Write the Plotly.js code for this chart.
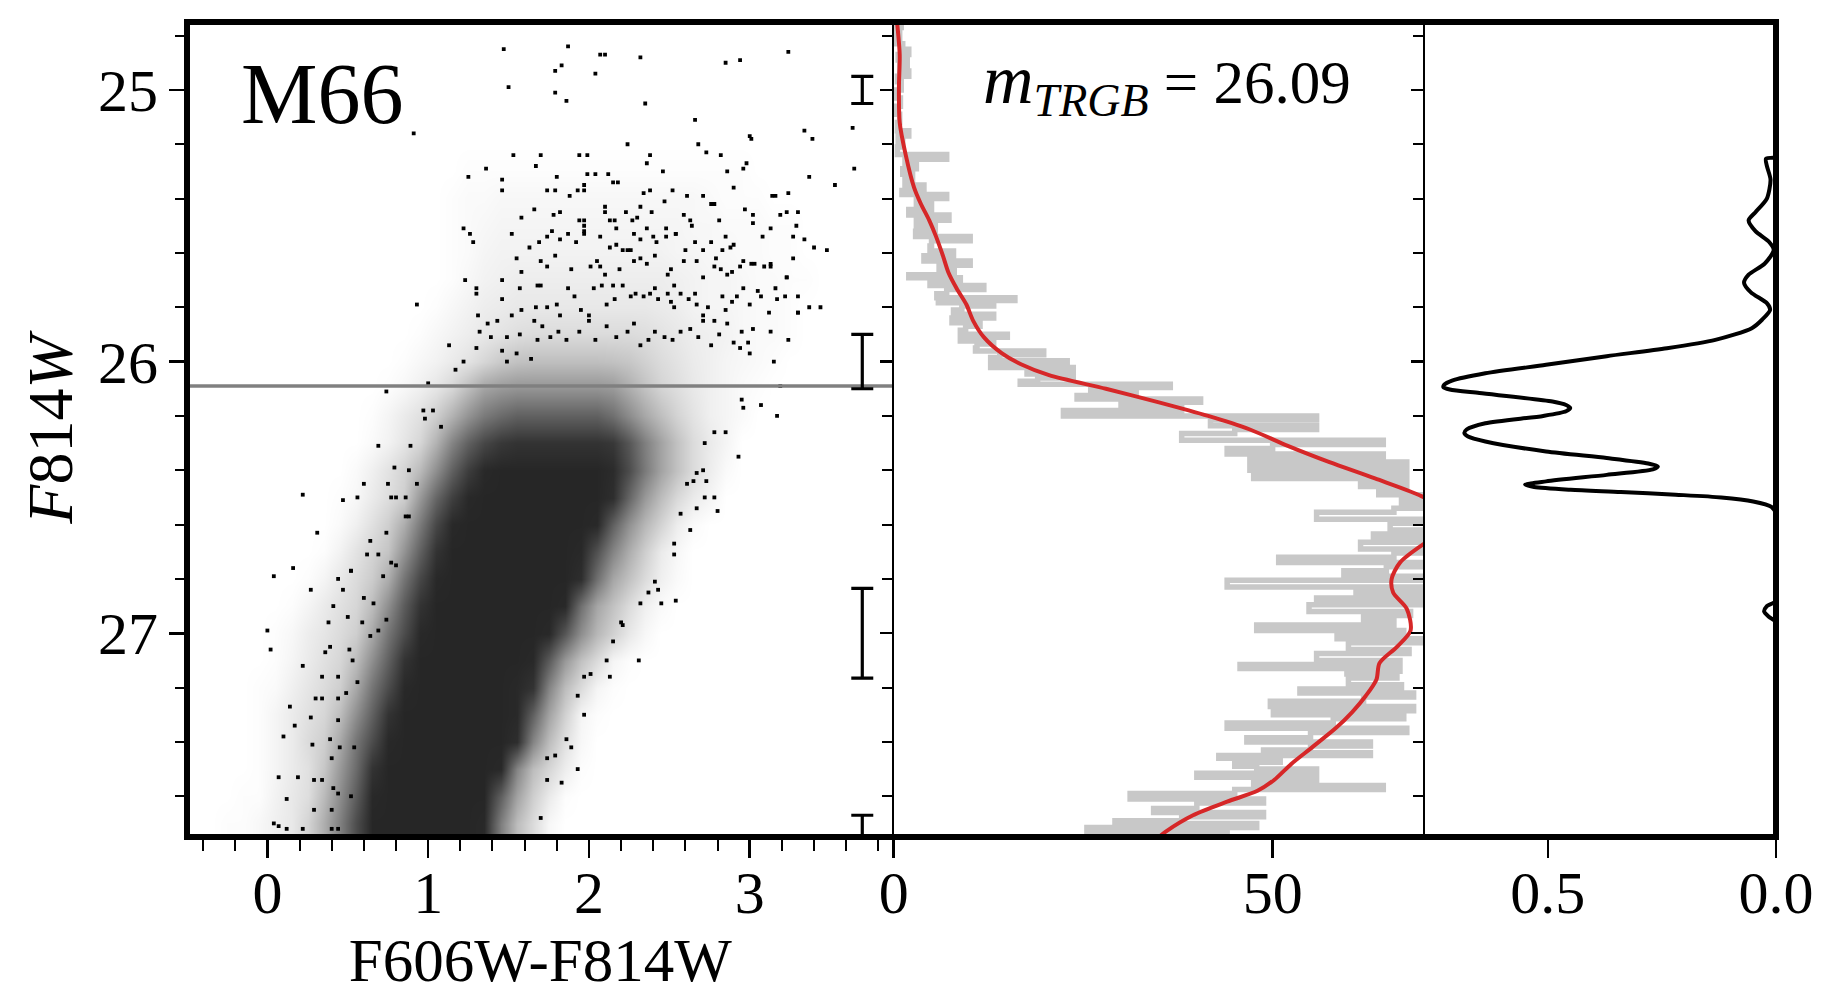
<!DOCTYPE html>
<html><head><meta charset="utf-8">
<script src="https://cdn.plot.ly/plotly-3.0.1.min.js"></script>
<style>html,body{margin:0;padding:0;background:#fff;}#chart{width:1829px;height:994px;}</style>
</head><body><div id="chart"></div>
<script>
// ---------- DATA ----------
// CMD: estimated ink density (percent coverage) of the crowded star cloud, 0.1 colour x 0.1 mag grid
const colorCenters = [-0.45,-0.35,-0.25,-0.15,-0.05,0.05,0.15,0.25,0.35,0.45,0.55,0.65,0.75,0.85,0.95,1.05,1.15,1.25,1.35,1.45,1.55,1.65,1.75,1.85,1.95,2.05,2.15,2.25,2.35,2.45,2.55,2.65,2.75,2.85,2.95,3.05,3.15,3.25,3.35,3.45,3.55,3.65,3.75,3.85];
const magCenters = [25.2,25.3,25.4,25.5,25.6,25.7,25.8,25.9,26.0,26.1,26.2,26.3,26.4,26.5,26.6,26.7,26.8,26.9,27.0,27.1,27.2,27.3,27.4,27.5,27.6,27.7];
const density = [
 [0,0,0,0,0,0,0,0,0,0, 0,0,0,0,0,0,0,0,0,0, 0,0,0,0,0,0,0,0,0,0, 0,0,0,0,0,0,0,0,0,0, 0,0,0,0],
 [0,0,0,0,0,0,0,0,0,0, 0,0,0,0,0,0,0,1,1,1, 1,1,1,1,1,1,1,1,1,1, 1,1,1,1,1,0,0,0,0,0, 0,0,0,0],
 [0,0,0,0,0,0,0,0,0,0, 0,0,0,0,0,0,1,2,2,3, 3,3,3,3,3,3,3,3,3,3, 3,3,2,1,1,1,0,0,0,0, 0,0,0,0],
 [0,0,0,0,0,0,0,0,0,0, 0,0,0,0,0,0,1,2,3,4, 4,4,4,4,4,4,4,4,4,4, 4,3,3,2,2,2,1,1,0,0, 0,0,0,0],
 [0,0,0,0,0,0,0,0,0,0, 0,0,0,0,0,0,1,2,4,5, 5,5,5,5,5,5,5,5,5,5, 4,4,3,3,2,2,1,1,0,0, 0,0,0,0],
 [0,0,0,0,0,0,0,0,0,0, 0,0,0,0,0,0,1,3,5,6, 7,7,7,7,7,7,7,7,7,7, 6,5,4,4,3,2,2,1,1,0, 0,0,0,0],
 [0,0,0,0,0,0,0,0,0,0, 0,0,0,0,0,1,3,5,7,8, 9,9,9,9,9,9,9,9,9,8, 7,5,4,4,3,2,2,1,0,0, 0,0,0,0],
 [0,0,0,0,0,0,0,0,0,0, 0,0,0,0,1,3,5,7,9,11, 13,14,14,14,14,14,14,14,13,11, 9,7,6,5,3,2,2,1,0,0, 0,0,0,0],
 [0,0,0,0,0,0,0,0,0,0, 0,0,0,1,3,5,8,11,16,21, 24,25,25,25,25,25,24,22,18,14, 11,8,6,4,3,2,1,0,0,0, 0,0,0,0],
 [0,0,0,0,0,0,0,0,0,0, 0,0,1,3,6,10,16,26,36,40, 42,42,42,42,42,42,40,32,24,17, 13,9,6,4,2,1,0,0,0,0, 0,0,0,0],
 [0,0,0,0,0,0,0,0,0,0, 0,1,4,8,12,19,30,42,52,58, 62,62,62,62,62,62,56,45,34,25, 17,11,6,4,2,0,0,0,0,0, 0,0,0,0],
 [0,0,0,0,0,0,0,0,0,0, 0,2,5,10,16,30,48,62,72,78, 80,80,80,80,80,80,78,66,50,36, 24,14,8,4,0,0,0,0,0,0, 0,0,0,0],
 [0,0,0,0,0,0,0,0,0,0, 2,6,11,17,27,44,62,76,84,85, 85,85,85,85,85,85,83,70,52,36, 24,14,7,2,0,0,0,0,0,0, 0,0,0,0],
 [0,0,0,0,0,0,0,0,0,1, 3,8,13,19,40,60,75,84,85,85, 85,85,85,85,85,85,82,60,40,26, 15,8,4,0,0,0,0,0,0,0, 0,0,0,0],
 [0,0,0,0,0,0,0,0,0,2, 6,12,19,32,52,72,84,85,85,85, 85,85,85,85,85,84,62,43,28,17, 7,2,0,0,0,0,0,0,0,0, 0,0,0,0],
 [0,0,0,0,0,0,0,0,1,5, 11,17,23,42,62,80,85,85,85,85, 85,85,85,85,84,68,48,32,19,8, 3,0,0,0,0,0,0,0,0,0, 0,0,0,0],
 [0,0,0,0,0,0,0,1,4,9, 14,20,32,54,72,84,85,85,85,85, 85,85,85,85,82,56,35,24,14,6, 2,0,0,0,0,0,0,0,0,0, 0,0,0,0],
 [0,0,0,0,0,0,1,4,8,12, 16,26,44,64,80,85,85,85,85,85, 85,85,85,84,56,35,24,14,6,2, 0,0,0,0,0,0,0,0,0,0, 0,0,0,0],
 [0,0,0,0,0,1,3,7,10,14, 19,34,54,70,84,85,85,85,85,85, 85,85,84,66,44,28,18,9,3,0, 0,0,0,0,0,0,0,0,0,0, 0,0,0,0],
 [0,0,0,0,0,1,4,8,12,16, 26,44,62,80,85,85,85,85,85,85, 85,84,64,40,24,14,4,1,0,0, 0,0,0,0,0,0,0,0,0,0, 0,0,0,0],
 [0,0,0,0,1,2,6,10,14,19, 34,54,70,84,85,85,85,85,85,85, 84,80,48,26,14,4,1,0,0,0, 0,0,0,0,0,0,0,0,0,0, 0,0,0,0],
 [0,0,0,0,1,4,8,12,16,26, 44,62,80,85,85,85,85,85,85,85, 84,62,36,18,4,1,0,0,0,0, 0,0,0,0,0,0,0,0,0,0, 0,0,0,0],
 [0,0,0,0,1,4,8,14,19,34, 54,70,84,85,85,85,85,85,85,85, 82,48,26,12,3,0,0,0,0,0, 0,0,0,0,0,0,0,0,0,0, 0,0,0,0],
 [0,0,0,0,1,4,8,12,22,40, 58,80,85,85,85,85,85,85,85,84, 48,26,16,7,1,0,0,0,0,0, 0,0,0,0,0,0,0,0,0,0, 0,0,0,0],
 [0,0,0,1,1,5,9,13,27,45, 64,84,85,85,85,85,85,85,85,62, 36,19,8,1,0,0,0,0,0,0, 0,0,0,0,0,0,0,0,0,0, 0,0,0,0],
 [0,0,1,1,3,6,9,17,32,50, 70,85,85,85,85,85,85,85,84,50, 26,14,3,0,0,0,0,0,0,0, 0,0,0,0,0,0,0,0,0,0, 0,0,0,0]
];
// CMD: individually visible stars [colour, F814W]
const stars = [
 [1.47,24.85],[1.50,24.99],[0.91,25.16],[1.53,25.24],[1.67,25.28],[1.36,25.29],[1.25,25.32],[1.46,25.33],[1.46,25.37],[1.66,25.44],[1.58,25.47],[1.22,25.51],[1.26,25.53],[1.28,25.56],[1.52,25.53],[1.63,25.58],[1.55,25.62],[1.23,25.70],[1.30,25.73],[1.30,25.75],[1.46,25.70],[1.46,25.77],[1.57,25.73],[0.93,25.79],[1.31,25.83],[1.13,25.94],[1.22,26.00],[1.17,26.03],[0.74,26.11],[1.00,26.08],[0.97,26.18],[1.03,26.18],[0.98,26.21],[1.08,26.24],
 [1.69,25.56],[1.58,25.67],[1.68,25.72],[1.67,25.80],[1.58,25.81],[1.52,25.83],[1.66,25.85],[1.37,25.86],[1.43,25.85],[1.32,25.89],[1.49,25.91],[1.57,25.90],[1.68,25.92],[1.39,25.91],[1.46,25.96],[1.55,25.97],[1.64,25.99],[1.30,25.95],[1.49,26.00],
 [1.87,24.84],[1.79,24.93],[1.83,24.91],[2.04,24.94],[2.07,24.87],[2.10,24.87],[2.32,24.88],[1.79,25.01],[1.86,25.04],[2.35,25.05],[2.66,25.11],[2.85,24.90],[2.94,24.89],[3.24,24.86],[2.24,25.20],[2.36,25.27],[2.38,25.24],[2.68,25.20],[2.73,25.23],[2.82,25.24],[3.00,25.17],[3.01,25.18],[2.96,25.29],[2.98,25.27],[2.86,25.30],[2.90,25.36],[3.34,25.15],[3.39,25.18],[3.37,25.32],[3.53,25.35],[3.64,25.14],[3.65,25.29],[1.94,25.24],[1.99,25.24],[1.70,25.24],[2.46,25.30],[3.48,25.59],[3.44,25.80],[3.37,25.80],[3.24,25.92],[3.30,25.82],[3.15,26.00],[3.19,26.09],[3.17,26.20],[3.07,26.16],[2.95,26.14],[2.96,26.17],[3.23,25.69],[3.30,25.45],[3.24,25.38],[3.19,25.46],[3.14,25.39],
 [1.80,25.32],[1.99,25.31],[2.04,25.31],[2.12,25.31],[2.15,25.34],[2.18,25.34],[1.97,25.35],[1.93,25.37],[1.74,25.37],[1.79,25.37],[1.88,25.39],[1.97,25.37],[2.34,25.38],[2.38,25.37],[2.47,25.41],[2.52,25.37],[2.61,25.39],[2.71,25.39],[2.76,25.42],[2.78,25.42],
 [1.82,25.45],[1.78,25.46],[1.94,25.48],[1.97,25.48],[1.97,25.50],[2.10,25.43],[2.10,25.45],[2.13,25.48],[2.16,25.48],[2.17,25.51],[2.23,25.45],[2.27,25.48],[2.30,25.47],[2.32,25.43],[2.39,25.45],[2.48,25.51],[2.54,25.53],[2.59,25.46],[2.63,25.48],[2.64,25.50],[2.81,25.48],[2.97,25.44],[3.02,25.46],[3.02,25.49],[3.16,25.39],[3.23,25.45],[3.13,25.51],[3.29,25.50],
 [1.74,25.54],[1.77,25.52],[1.82,25.55],[1.87,25.53],[1.92,25.56],[1.97,25.52],[1.97,25.53],[2.07,25.54],[2.13,25.58],[2.17,25.57],[2.21,25.59],[2.26,25.59],[2.28,25.53],[2.32,25.55],[2.36,25.51],[2.40,25.54],[2.42,25.56],[2.48,25.54],[2.54,25.53],[2.60,25.59],[2.66,25.56],[2.71,25.59],[2.76,25.56],[2.79,25.62],[2.83,25.59],[2.85,25.54],[2.88,25.58],[2.90,25.57],[2.96,25.63],[3.01,25.64],[3.08,25.54],[3.13,25.65],[3.27,25.62],[3.27,25.54],[3.34,25.55],[3.40,25.58],
 [1.70,25.63],[1.74,25.65],[1.79,25.61],[1.89,25.66],[2.01,25.65],[2.05,25.63],[2.07,25.65],[2.10,25.68],[2.15,25.72],[2.19,25.66],[2.24,25.59],[2.28,25.63],[2.32,25.62],[2.36,25.64],[2.41,25.61],[2.49,25.68],[2.51,25.66],[2.53,25.72],[2.59,25.63],[2.67,25.63],[2.71,25.69],[2.78,25.65],[2.82,25.66],[2.86,25.68],[2.89,25.67],[2.94,25.65],[3.03,25.64],[3.09,25.65],[3.13,25.64],[3.16,25.73],[3.23,25.69],
 [1.70,25.72],[1.74,25.80],[1.80,25.79],[1.82,25.83],[1.87,25.73],[1.91,25.76],[1.95,25.81],[2.00,25.83],[2.03,25.73],[2.08,25.72],[2.11,25.79],[2.16,25.77],[2.21,25.72],[2.26,25.76],[2.29,25.75],[2.34,25.76],[2.38,25.75],[2.41,25.73],[2.43,25.77],[2.49,25.75],[2.51,25.78],[2.53,25.80],[2.57,25.75],[2.62,25.77],[2.66,25.75],[2.67,25.79],[2.71,25.83],[2.74,25.80],[2.78,25.85],[2.83,25.76],[2.85,25.81],[2.89,25.78],[2.92,25.76],[2.96,25.73],[3.00,25.79],[3.05,25.74],[3.07,25.76],[3.12,25.82],[3.17,25.77],[3.22,25.76],[3.30,25.76],[3.30,25.82],
 [1.71,25.87],[1.76,25.91],[1.81,25.89],[1.86,25.92],[1.94,25.89],[2.00,25.85],[2.04,25.92],[2.11,25.87],[2.17,25.91],[2.24,25.89],[2.28,25.86],[2.32,25.94],[2.37,25.92],[2.41,25.89],[2.47,25.91],[2.52,25.92],[2.57,25.89],[2.63,25.88],[2.68,25.91],[2.71,25.85],[2.76,25.94],[2.81,25.90],[2.86,25.86],[2.90,25.93],[2.95,25.89],[2.99,25.93],[3.02,25.88],[3.13,25.89],[2.94,25.95],[3.00,25.97],
 [0.22,26.49],[0.04,26.79],[0.16,26.76],[0.27,26.84],[0.31,26.63],[0.00,26.99],[0.02,27.06],[0.22,27.12],[0.34,27.16],[0.14,27.27],[0.17,27.34],[0.10,27.38],[0.27,27.31],[0.28,27.41],[0.07,27.53],[0.19,27.53],[0.12,27.61],[0.29,27.65],[0.04,27.70],[0.07,27.71],[0.12,27.72],[0.22,27.72],[0.47,26.51],[0.56,26.50],[0.52,26.77],[0.44,26.80],[0.41,26.90],[0.38,26.96],[0.36,27.07],[0.47,26.84],
 [0.69,26.31],[0.89,26.31],[0.79,26.39],[0.88,26.40],[0.75,26.45],[0.93,26.45],[0.60,26.45],[0.77,26.50],[0.80,26.50],[0.86,26.50],[0.86,26.57],[0.88,26.57],[0.64,26.66],[0.74,26.63],[0.69,26.71],[0.62,26.71],[0.77,26.74],[0.80,26.75],[0.72,26.79],[0.52,26.77],[0.60,26.87],[0.66,26.89],[0.50,26.94],[0.59,26.96],[0.74,26.95],[0.69,26.99],[0.64,27.01],[0.51,27.06],[0.39,27.05],[0.53,27.10],[0.44,27.16],[0.56,27.18],[0.49,27.22],[0.30,27.24],[0.34,27.24],[0.44,27.24],[0.44,27.32],[0.39,27.39],[0.54,27.42],[0.45,27.42],[0.40,27.46],[0.34,27.54],[0.29,27.54],[0.41,27.57],[0.44,27.59],[0.40,27.65],[0.52,27.60],[0.40,27.72],[0.44,27.72],
 [2.93,26.35],[2.80,26.55],[2.78,26.50],[2.54,26.88],[2.45,26.89],[2.31,27.10],[2.13,27.16],[1.97,27.30],[1.93,27.50],[1.83,27.55],[1.74,27.54],[2.53,26.71],[2.63,26.62],
 [2.78,26.26],[2.85,26.26],[2.72,26.30],[2.71,26.40],[2.73,26.44],[2.67,26.41],[2.65,26.44],[2.61,26.45],[2.67,26.54],[2.72,26.50],[2.57,26.56],[2.53,26.67],[2.43,26.84],[2.41,26.81],[2.37,26.85],[2.32,26.89],[2.20,26.96],[2.21,26.97],[2.15,27.03],[2.11,27.10],[2.01,27.15],[1.97,27.16],[1.93,27.23],[1.89,27.42],[1.86,27.39],[1.79,27.45],[1.74,27.46],[1.70,27.68]
];
const trgbMag = 26.09;
const cmdColorRange = [-0.5, 3.895];
const errColor = [3.70,3.70,3.70,3.70];
const errMag = [25.0,26.0,27.0,28.0];
const errHalf = [0.05,0.10,0.165,0.33];
// middle panel: noisy luminosity function (grey steps) and smoothed LF (red)
const histMag = [24.75,24.77,24.79,24.81,24.83,24.85,24.87,24.89,24.91,24.93,24.95,24.97,25.00,25.03,25.06,25.09,25.12,25.15,25.17,25.19,25.21,25.238,25.255,25.27,25.29,25.31,25.33,25.35,25.37,25.385,25.40,25.42,25.44,25.46,25.48,25.50,25.52,25.54,25.555,25.575,25.593,25.61,25.63,25.645,25.665,25.68,25.691,25.705,25.72,25.735,25.75,25.765,25.775,25.783,25.795,25.81,25.826,25.84,25.857,25.87,25.885,25.899,25.91,25.924,25.935,25.95,25.961,25.975,25.985,25.997,26.008,26.022,26.034,26.046,26.06,26.072,26.083,26.095,26.11,26.125,26.138,26.15,26.165,26.18,26.20,26.215,26.236,26.25,26.265,26.29,26.305,26.32,26.34,26.355,26.37,26.385,26.40,26.415,26.43,26.445,26.46,26.475,26.49,26.505,26.52,26.54,26.555,26.58,26.595,26.62,26.635,26.65,26.665,26.69,26.705,26.72,26.74,26.755,26.77,26.79,26.805,26.83,26.845,26.855,26.87,26.88,26.895,26.92,26.935,26.95,26.97,26.99,27.005,27.02,27.035,27.06,27.075,27.10,27.115,27.13,27.14,27.15,27.165,27.19,27.205,27.22,27.235,27.25,27.27,27.285,27.30,27.315,27.33,27.35,27.365,27.385,27.40,27.415,27.43,27.44,27.45,27.46,27.475,27.49,27.50,27.515,27.53,27.545,27.56,27.575,27.59,27.61,27.625,27.645,27.66,27.675,27.69,27.70,27.715,27.73,27.74,27.75];
const histCount = [0.3,1.0,0.4,0.8,0.3,1.2,2.0,0.6,1.8,0.8,2.0,0.5,1.0,0.4,0.9,0.3,0.8,0.5,2.0,0.6,1.2,0.5,7.0,1.5,3.0,1.2,2.5,1.5,4.0,1.1,7.0,3.0,5.0,2.0,7.3,3.0,5.5,2.9,10.1,5.0,4.8,7.9,4.0,10.1,6.0,8.0,2.0,8.8,4.8,11.9,7.0,5.7,16.0,5.9,13.2,9.0,7.9,13.2,7.7,11.4,9.5,8.8,15.0,8.8,13.2,11.0,10.8,19.8,14.0,12.8,22.9,12.8,23.7,17.6,23.7,19.0,16.7,36.5,26.0,32.0,24.2,40.5,30.0,38.0,22.4,55.8,41.8,55.8,45.0,38.0,64.6,50.0,44.0,64.6,47.0,67.7,47.0,67.7,47.5,67.7,61.6,67.7,64.0,72.0,67.0,73.0,66.0,55.8,72.0,65.5,72.0,63.3,71.0,61.6,71.0,66.0,50.8,71.0,65.0,59.4,71.0,44.0,71.0,61.0,71.0,55.8,71.0,54.8,68.2,62.0,66.0,47.9,67.3,58.5,70.0,60.0,68.0,55.8,66.8,45.7,66.8,59.8,66.4,60.0,67.0,53.6,68.6,62.0,49.7,68.6,50.1,67.3,58.0,44.0,67.7,55.0,46.6,62.9,55.0,48.8,62.9,42.9,51.0,45.0,47.9,55.8,40.0,55.8,47.5,64.6,45.0,31.2,48.8,40.0,34.3,48.8,38.0,29.2,47.9,25.5,44.0,30.0];
const lfMag = [24.75,24.87,24.99,25.12,25.24,25.36,25.42,25.48,25.54,25.61,25.67,25.73,25.79,25.85,25.91,25.97,26.01,26.05,26.10,26.15,26.20,26.25,26.31,26.37,26.43,26.50,26.55,26.59,26.63,26.67,26.74,26.80,26.85,26.91,26.99,27.05,27.11,27.17,27.23,27.29,27.35,27.42,27.48,27.54,27.58,27.62,27.67,27.73,27.75];
const lfCount = [0.45,0.8,0.7,0.8,1.6,2.7,3.6,4.7,5.6,6.5,7.2,8.3,9.6,10.5,11.9,14.3,16.8,20.5,28.0,35.0,41.5,47.0,52.0,57.5,63.5,70.0,72.5,73.5,72.5,70.0,66.8,65.7,65.9,67.7,68.2,66.4,64.1,63.7,62.3,60.5,58.3,55.2,52.5,50.2,48.0,44.0,39.5,35.9,35.0];
// right panel: edge-detection response
const edgeMag = [25.25,25.253,25.28,25.33,25.40,25.45,25.48,25.52,25.56,25.59,25.64,25.68,25.71,25.745,25.785,25.81,25.845,25.877,25.92,25.951,25.98,26.012,26.043,26.07,26.085,26.094,26.103,26.116,26.147,26.16,26.171,26.183,26.20,26.227,26.25,26.263,26.276,26.294,26.331,26.355,26.375,26.386,26.397,26.417,26.441,26.453,26.462,26.472,26.48,26.49,26.50,26.515,26.535,26.56,26.88,26.90,26.92,26.94,26.96,27.00];
const edgeResp = [0.0,0.022,0.02,0.012,0.02,0.045,0.06,0.045,0.015,0.005,0.025,0.06,0.07,0.055,0.02,0.013,0.03,0.053,0.133,0.239,0.371,0.504,0.637,0.71,0.727,0.729,0.715,0.65,0.49,0.46,0.451,0.46,0.51,0.637,0.678,0.683,0.675,0.637,0.504,0.371,0.28,0.259,0.27,0.371,0.504,0.55,0.53,0.45,0.34,0.22,0.12,0.05,0.01,0.0,0.0,0.02,0.026,0.015,0.0,0.0];

// ---------- TRACES ----------
const FONT = 'Liberation Serif, Times New Roman, serif';
const traces = [
 {type:'heatmap', x:colorCenters, y:magCenters, z:density, zmin:0, zmax:100, zsmooth:'best',
  colorscale:[[0,'#ffffff'],[1,'#000000']], showscale:false, hoverinfo:'skip', xaxis:'x', yaxis:'y'},
 {type:'scatter', mode:'markers', x:stars.map(p=>p[0]), y:stars.map(p=>p[1]), xaxis:'x', yaxis:'y',
  marker:{symbol:'square', size:3.8, color:'#000', line:{width:0}}, hoverinfo:'skip'},
 {type:'scatter', mode:'lines', x:cmdColorRange, y:[trgbMag, trgbMag], xaxis:'x', yaxis:'y',
  line:{color:'#808080', width:3.5}, hoverinfo:'skip'},
 {type:'scatter', mode:'markers', x:errColor, y:errMag, xaxis:'x', yaxis:'y',
  marker:{size:1, color:'rgba(0,0,0,0)'},
  error_y:{type:'data', array:errHalf, visible:true, color:'#000', thickness:3.2, width:11}, hoverinfo:'skip'},
 {type:'scatter', mode:'lines', x:histCount, y:histMag, xaxis:'x2', yaxis:'y2',
  line:{color:'#c8c8c8', width:5.5, shape:'hv'}, hoverinfo:'skip'},
 {type:'scatter', mode:'lines', x:lfCount, y:lfMag, xaxis:'x2', yaxis:'y2',
  line:{color:'#d62728', width:4, shape:'spline', smoothing:0.8}, hoverinfo:'skip'},
 {type:'scatter', mode:'lines', x:edgeResp, y:edgeMag, xaxis:'x3', yaxis:'y3',
  line:{color:'#000', width:4, shape:'spline', smoothing:0.7}, hoverinfo:'skip'}
];

const magRange = [27.75, 24.75];
const tickFont = {family: FONT, size: 60, color: '#000'};
const yMinor = {dtick:0.2, tick0:25, ticks:'outside', ticklen:11, tickwidth:2, tickcolor:'#000'};
const layout = {
 width:1829, height:994,
 margin:{l:187, r:53, t:22, b:157},
 paper_bgcolor:'#fff', plot_bgcolor:'#fff', showlegend:false,
 font:{family:FONT, color:'#000', size:60},
 xaxis:{domain:[0,0.4447], range:cmdColorRange, anchor:'y', tickvals:[0,1,2,3], ticktext:['0','1','2','3'],
  ticks:'outside', ticklen:20, tickwidth:2.5, tickcolor:'#000', tickfont:tickFont,
  minor:{dtick:0.2, tick0:0, ticks:'outside', ticklen:13, tickwidth:2, tickcolor:'#000'},
  showgrid:false, zeroline:false, showline:false, automargin:false, ticklabelstandoff:-17,
  title:{text:'F606W-F814W', font:{family:FONT, size:61, color:'#000'}, standoff:24}},
 xaxis2:{domain:[0.4447,0.7791], range:[0,70.1], anchor:'y2', tickvals:[0,50], ticktext:['0','50'],
  ticks:'outside', ticklen:20, tickwidth:2.5, tickcolor:'#000', tickfont:tickFont,
  showgrid:false, zeroline:false, showline:false, automargin:false, ticklabelstandoff:-17},
 xaxis3:{domain:[0.7791,1], range:[0.7693,0], anchor:'y3', tickvals:[0.5,0.0], ticktext:['0.5','0.0'],
  ticks:'outside', ticklen:20, tickwidth:2.5, tickcolor:'#000', tickfont:tickFont,
  showgrid:false, zeroline:false, showline:false, automargin:false, ticklabelstandoff:-17},
 yaxis:{domain:[0,1], range:magRange, anchor:'x', tickvals:[25,26,27], ticktext:['25','26','27'],
  ticks:'outside', ticklen:17, tickwidth:2.5, tickcolor:'#000', tickfont:tickFont, minor:yMinor,
  showgrid:false, zeroline:false, showline:false, automargin:false, ticklabelstandoff:-1,
  title:{text:'<i>F</i>814<i>W</i>', font:{family:FONT, size:64, color:'#000'}, standoff:4}},
 yaxis2:{domain:[0,1], range:magRange, anchor:'x2', tickvals:[25,26,27], showticklabels:false,
  ticks:'outside', ticklen:12, tickwidth:2.2, tickcolor:'#000',
  minor:{dtick:0.2, tick0:25, ticks:'outside', ticklen:10, tickwidth:2, tickcolor:'#000'},
  showgrid:false, zeroline:false, showline:true, linewidth:2, linecolor:'#000', automargin:false},
 yaxis3:{domain:[0,1], range:magRange, anchor:'x3', tickvals:[25,26,27], showticklabels:false,
  ticks:'outside', ticklen:12, tickwidth:2.2, tickcolor:'#000',
  minor:{dtick:0.2, tick0:25, ticks:'outside', ticklen:10, tickwidth:2, tickcolor:'#000'},
  showgrid:false, zeroline:false, showline:true, linewidth:2, linecolor:'#000', automargin:false},
 shapes:[{type:'rect', xref:'paper', yref:'paper', x0:0, x1:1, y0:0, y1:1, line:{color:'#000', width:6}, fillcolor:'rgba(0,0,0,0)', layer:'above'}],
 annotations:[
  {text:'M66', xref:'x domain', yref:'y domain', x:0.191, y:0.9113, xanchor:'center', yanchor:'middle',
   showarrow:false, font:{family:FONT, size:86, color:'#000'}},
  {text:'<span style="font-size:70px"><i>m</i></span><sub><span style="font-size:46px"><i>TRGB</i></span></sub>&nbsp;=&nbsp;26.09', xref:'x2 domain', yref:'y2 domain', x:0.864, y:0.979,
   xanchor:'right', yanchor:'top', showarrow:false, font:{family:FONT, size:61, color:'#000'}}
 ]
};
Plotly.newPlot('chart', traces, layout, {displayModeBar:false, staticPlot:true});
</script>
</body></html>
